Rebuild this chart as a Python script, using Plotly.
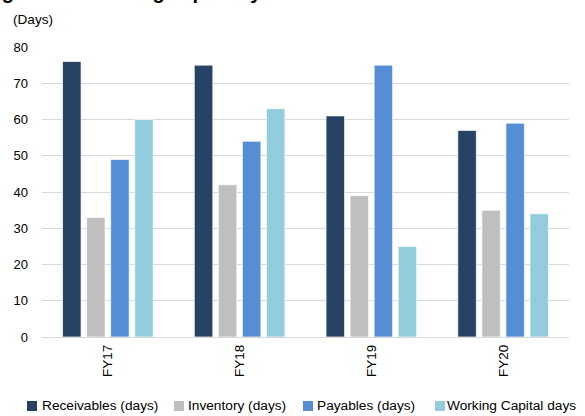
import plotly.graph_objects as go

# Working capital components by fiscal year (days)
years = ["FY17", "FY18", "FY19", "FY20"]
receivables = [76, 75, 61, 57]
inventory = [33, 42, 39, 35]
payables = [49, 54, 75, 59]
working_capital = [60, 63, 25, 34]

series_names = ["Receivables (days)", "Inventory (days)", "Payables (days)", "Working Capital days"]
series_values = [receivables, inventory, payables, working_capital]
series_colors = ["#264264", "#BFBFBF", "#558ED5", "#93CDDD"]

y_ticks = [0, 10, 20, 30, 40, 50, 60, 70, 80]

FONT = "Liberation Sans, Arial, Helvetica, sans-serif"

W, H = 585, 416
ML, MR, MT, MB = 42, 16, 47, 79
PW, PH = W - ML - MR, H - MT - MB


def px_x(px):
    return (px - ML) / PW


def px_y(py):
    return (H - MB - py) / PH


fig = go.Figure()
for name, vals, color in zip(series_names, series_values, series_colors):
    fig.add_trace(go.Bar(
        x=years, y=vals, name=name,
        marker=dict(color=color, line=dict(color="rgba(255,255,255,0.7)", width=1)),
        showlegend=False,
    ))

# legend row drawn below the plot: swatch + label for each series
legend_swatch_x = [27, 174, 303, 435]
legend_text_x = [40, 186, 315, 445]
shapes = []
annotations = []
for sx, tx, name, color in zip(legend_swatch_x, legend_text_x, series_names, series_colors):
    shapes.append(dict(type="rect", xref="paper", yref="paper",
                       x0=px_x(sx), x1=px_x(sx + 10), y0=px_y(411), y1=px_y(401),
                       fillcolor=color, line=dict(width=0)))
    annotations.append(dict(text=name, xref="paper", yref="paper", x=px_x(tx), y=px_y(405.5),
                            xanchor="left", yanchor="middle", showarrow=False,
                            font=dict(size=13.7, color="#000000")))

annotations.append(dict(text="(Days)", xref="paper", yref="paper", x=px_x(11), y=px_y(19),
                        xanchor="left", yanchor="middle", showarrow=False,
                        font=dict(size=13.6, color="#000000")))
# chart heading, sitting at the very top edge of the page
annotations.append(dict(text="<b>Figure 12: Working capital cycle</b>", xref="paper", yref="paper",
                        x=-0.114, y=px_y(5), xanchor="left", yanchor="bottom", showarrow=False,
                        font=dict(size=20, color="#000000")))

fig.update_layout(
    width=W, height=H,
    margin=dict(l=ML, r=MR, t=MT, b=MB, autoexpand=False),
    paper_bgcolor="white", plot_bgcolor="white",
    barmode="group", bargap=0.27, bargroupgap=0.23,
    font=dict(family=FONT, size=13.5, color="#000000"),
    showlegend=False,
    xaxis=dict(tickangle=-90, showgrid=False, showline=False, ticks="",
               automargin=False, ticklabelstandoff=4, tickfont=dict(size=13.5)),
    yaxis=dict(range=[0, 80], tickvals=y_ticks, showgrid=True, gridcolor="#D9D9D9",
               gridwidth=1, zeroline=True, zerolinecolor="#D9D9D9", zerolinewidth=1,
               showline=False, ticks="", automargin=False, ticklabelstandoff=13,
               tickfont=dict(size=13)),
    shapes=shapes,
    annotations=annotations,
)

fig.write_html("out.html")
